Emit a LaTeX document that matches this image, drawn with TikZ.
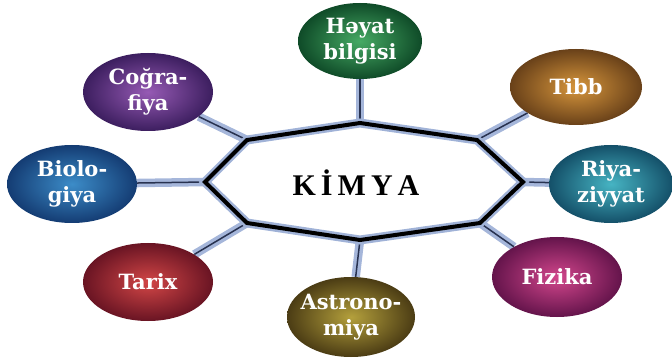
\documentclass[tikz,border=0pt]{standalone}
\usepackage{fontspec}
\setmainfont{DejaVu Serif}
\newfontfamily\titlefont{Liberation Serif}
\usepackage{tikz}
\usetikzlibrary{shapes.geometric,backgrounds}
\definecolor{ringlight}{RGB}{160,178,215}
\definecolor{bondlight}{RGB}{165,182,218}
\definecolor{bonddark}{RGB}{40,50,80}
\definecolor{hayatIn}{RGB}{70,170,100}
\definecolor{hayatOut}{RGB}{15,75,40}
\definecolor{cografIn}{RGB}{150,90,180}
\definecolor{cografOut}{RGB}{60,30,95}
\definecolor{bioIn}{RGB}{60,140,200}
\definecolor{bioOut}{RGB}{20,60,115}
\definecolor{tarixIn}{RGB}{210,70,70}
\definecolor{tarixOut}{RGB}{105,20,35}
\definecolor{astroIn}{RGB}{180,160,60}
\definecolor{astroOut}{RGB}{75,60,20}
\definecolor{tibbIn}{RGB}{215,150,60}
\definecolor{tibbOut}{RGB}{105,65,25}
\definecolor{riyazIn}{RGB}{70,180,195}
\definecolor{riyazOut}{RGB}{20,80,105}
\definecolor{fizIn}{RGB}{210,70,140}
\definecolor{fizOut}{RGB}{100,20,75}
\tikzset{
  subj/.style={ellipse,inner sep=0pt,minimum width=130pt,minimum height=78pt,
    inner color=#1In,outer color=#1Out,text=white,align=center,
    font=\fontsize{21}{26}\selectfont\bfseries},
  bond/.style={preaction={draw=bondlight,line width=8.5pt},draw=bonddark,line width=1.5pt},
  ring/.style={preaction={draw=ringlight,line width=9pt},draw=black,line width=4pt,
    line join=miter},
  title/.style={font=\titlefont\fontsize{30}{32}\selectfont\bfseries,text=black},
}
\begin{document}
\begin{tikzpicture}[x=1pt,y=-1pt]
  \useasboundingbox (0,0) rectangle (672,358);

  % ring corners
  \coordinate (v1) at (360,123);
  \coordinate (v2) at (477,140);
  \coordinate (v3) at (523,182);
  \coordinate (v4) at (480,223);
  \coordinate (v5) at (360,240);
  \coordinate (v6) at (247,223);
  \coordinate (v7) at (205,182);
  \coordinate (v8) at (247,140);

  \node[subj=hayat,minimum width=124pt,minimum height=76pt] (hayat) at (360,41) {Həyat\\bilgisi};
  \node[subj=tibb,minimum width=132pt,minimum height=76pt] (tibb) at (576,87) {Tibb};
  \node[subj=riyaz,minimum width=124pt,inner xsep=-4pt] (riyaz) at (611,184) {Riya-\\ziyyat};
  \node[subj=fiz,minimum height=80pt] (fizika) at (557,277) {Fizika};
  \node[subj=astro,minimum width=128pt,minimum height=80pt,inner xsep=-14pt,inner ysep=-4pt] (astro) at (351,317) {Astrono-\\miya};
  \node[subj=tarix] (tarix) at (148,282) {Tarix};
  \node[subj=bio] (bio) at (72,184) {Biolo-\\giya};
  \node[subj=cograf] (cograf) at (148,92) {Coğra-\\fiya};

  \node[title] (kimya) at (356,183) {K\hspace{5pt}İ\hspace{5pt}M\hspace{5pt}Y\hspace{5pt}A};

  \begin{scope}[on background layer]
    \foreach \v/\n in {v1/hayat,v2/tibb,v3/riyaz,v4/fizika,v5/astro,v6/tarix,v7/bio,v8/cograf}
      \draw[bond] (\v) -- (\n);
    \draw[ring] (v1) -- (v2) -- (v3) -- (v4) -- (v5) -- (v6) -- (v7) -- (v8) -- cycle;
  \end{scope}
\end{tikzpicture}
\end{document}
